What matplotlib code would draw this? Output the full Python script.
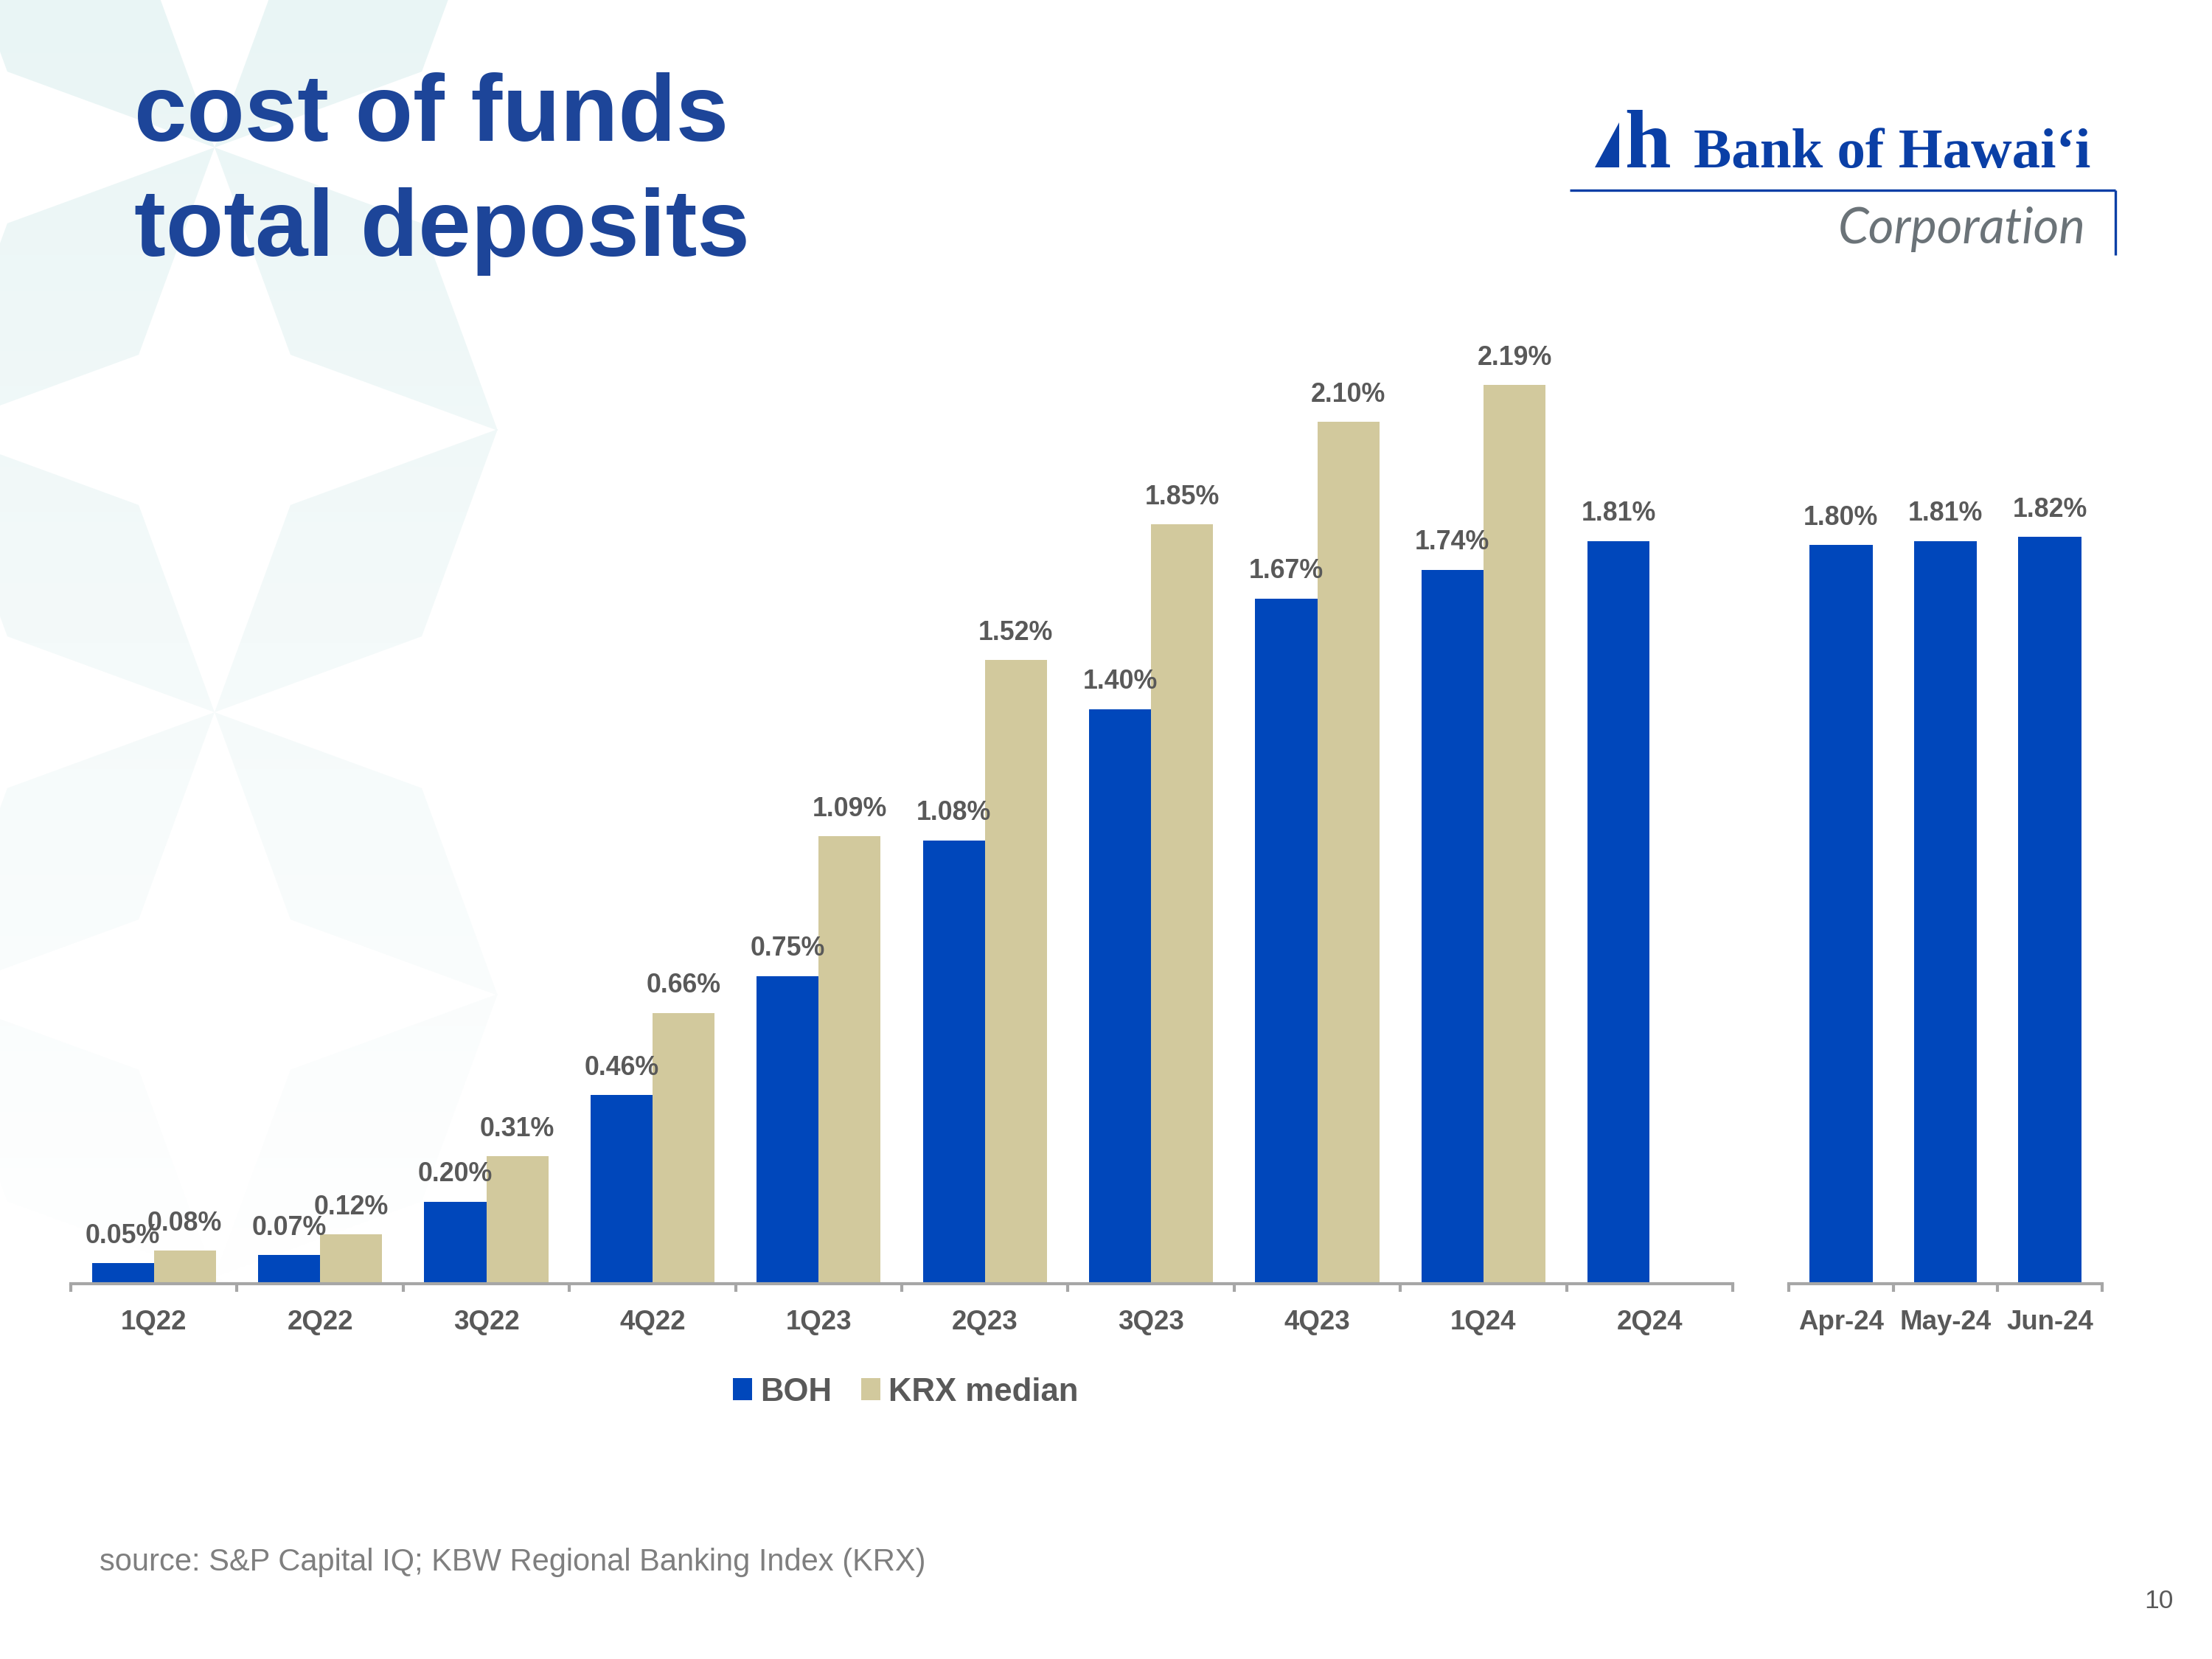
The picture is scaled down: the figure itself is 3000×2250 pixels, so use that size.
import numpy as np
import matplotlib.pyplot as plt
from matplotlib.patches import Polygon, PathPatch, Patch
from matplotlib.path import Path

plt.rcParams['font.family'] = ['Liberation Sans', 'DejaVu Sans']

# data
quarters = ['1Q22', '2Q22', '3Q22', '4Q22', '1Q23', '2Q23', '3Q23', '4Q23', '1Q24', '2Q24']
boh_q = [0.05, 0.07, 0.20, 0.46, 0.75, 1.08, 1.40, 1.67, 1.74, 1.81]
krx_q = [0.08, 0.12, 0.31, 0.66, 1.09, 1.52, 1.85, 2.10, 2.19, np.nan]
months = ['Apr-24', 'May-24', 'Jun-24']
boh_m = [1.80, 1.81, 1.82]

BLUE = '#0047BB'
TAN = '#D2C99D'
GREY = '#595959'
TITLE_BLUE = '#1D4599'
LOGO_BLUE = '#0A3FA6'

W, H = 3000, 2250
fig = plt.figure(figsize=(10, 7.5), dpi=300)

# ---- background star pattern (pixel coords) ----
bg = fig.add_axes([0, 0, 1, 1], zorder=0)
bg.set_xlim(0, W)
bg.set_ylim(H, 0)
bg.axis('off')

polys = []
for cy in (200, 966, 1732):
    cx = 291
    for dx, dy in [(1, 1), (1, -1), (-1, 1), (-1, -1)]:
        tip = (cx + 384 * dx, cy + 384 * dy)
        mx, my = cx + 192 * dx, cy + 192 * dy
        px, py = -dy / np.sqrt(2), dx / np.sqrt(2)
        s1 = (mx + 126 * px, my + 126 * py)
        s2 = (mx - 126 * px, my - 126 * py)
        polys.append(Path([(cx, cy), s1, tip, s2, (cx, cy)], closed=True))
star_path = Path.make_compound_path(*polys)

yy = np.linspace(0, H, 300)
grad = np.zeros((300, 1, 4))
grad[..., 0] = 0.914
grad[..., 1] = 0.962
grad[..., 2] = 0.962
grad[:, 0, 3] = np.clip(1.0 - yy / 1750, 0, 1)
im = bg.imshow(grad, extent=(0, W, H, 0), aspect='auto', interpolation='bilinear')
clip = PathPatch(star_path, transform=bg.transData, fc='none', ec='none')
bg.add_patch(clip)
im.set_clip_path(clip)
bg.set_xlim(0, W)
bg.set_ylim(H, 0)

# ---- title ----
fig.text(182 / W, 1 - 191 / H, 'cost of funds', fontsize=30.8, weight='bold',
         color=TITLE_BLUE, va='baseline')
fig.text(182 / W, 1 - 347 / H, 'total deposits', fontsize=30.8, weight='bold',
         color=TITLE_BLUE, va='baseline')

# ---- logo ----
bg.add_patch(Polygon([(2163, 227), (2196, 166), (2196, 227)], closed=True,
                     color=LOGO_BLUE, lw=0))
bg.text(2203, 227, 'h', fontsize=27, weight='bold', family='Liberation Serif',
        color=LOGO_BLUE, va='baseline', ha='left')
t_bank = bg.text(2297, 227, 'Bank of Hawai\u2018i', fontsize=20, weight='bold',
                 family='Liberation Serif', color=LOGO_BLUE, va='baseline', ha='left')
t_corp = bg.text(2829, 330, 'Corporation', fontsize=16, style='italic',
                 family=['Lato', 'DejaVu Sans'], color='#6B7378', va='baseline', ha='right')
bg.plot([2129, 2869], [258, 258], color=LOGO_BLUE, lw=0.8, solid_capstyle='butt')
bg.plot([2869, 2869], [258, 346], color=LOGO_BLUE, lw=0.8, solid_capstyle='butt')

renderer = fig.canvas.get_renderer()
for t, target in [(t_bank, 539), (t_corp, 336)]:
    wpx = t.get_window_extent(renderer).width
    t.set_fontsize(t.get_fontsize() * target / wpx)

# ---- chart axes ----
base_y = 1741
top_y = 300
px_per_pct = 556.5
ymax = (base_y - top_y) / px_per_pct

ax1 = fig.add_axes([96 / W, 1 - base_y / H, (2350 - 96) / W, (base_y - top_y) / H], zorder=2)
ax2 = fig.add_axes([2426 / W, 1 - base_y / H, (2851 - 2426) / W, (base_y - top_y) / H], zorder=2)

for ax in (ax1, ax2):
    ax.patch.set_visible(False)
    ax.set_ylim(0, ymax)
    ax.set_yticks([])
    for s in ('top', 'left', 'right'):
        ax.spines[s].set_visible(False)
    ax.spines['bottom'].set_color('#A6A6A6')
    ax.spines['bottom'].set_linewidth(1.0)


def label_bars(ax, xs, vals):
    for xi, v in zip(xs, vals):
        if np.isnan(v):
            continue
        ax.annotate(f'{v:.2f}%', (xi, v), xytext=(0, 6.6), textcoords='offset points',
                    ha='center', va='baseline', fontsize=8.6, weight='bold', color=GREY)


x = np.arange(len(quarters))
w = 0.3735
krx_arr = np.array(krx_q)
mask = ~np.isnan(krx_arr)
ax1.bar(x - w / 2, boh_q, w, color=BLUE, lw=0)
ax1.bar(x[mask] + w / 2, krx_arr[mask], w, color=TAN, lw=0)
label_bars(ax1, x - w / 2, boh_q)
label_bars(ax1, x + w / 2, krx_q)
ax1.set_xlim(-0.5, len(quarters) - 0.5)
ax1.set_xticks(x)
ax1.set_xticklabels(quarters)
ax1.set_xticks(np.arange(-0.5, len(quarters), 1), minor=True)

xm = np.arange(len(months))
ax2.bar(xm, boh_m, 0.607, color=BLUE, lw=0)
label_bars(ax2, xm, boh_m)
ax2.set_xlim(-0.5, len(months) - 0.5)
ax2.set_xticks(xm)
ax2.set_xticklabels(months)
ax2.set_xticks(np.arange(-0.5, len(months), 1), minor=True)

for ax in (ax1, ax2):
    ax.tick_params(axis='x', which='major', length=0, pad=8.4, labelsize=8.8, labelcolor=GREY)
    ax.tick_params(axis='x', which='minor', length=2.6, width=1.0, color='#A6A6A6')
    for lab in ax.get_xticklabels():
        lab.set_fontweight('bold')

# ---- legend ----
fig.legend(handles=[Patch(color=BLUE, lw=0), Patch(color=TAN, lw=0)],
           labels=['BOH', 'KRX median'], loc='center',
           bbox_to_anchor=(1228 / W, 1 - 1888 / H), ncol=2, frameon=False,
           prop={'weight': 'bold', 'size': 10.5}, labelcolor=GREY,
           handlelength=0.6, handleheight=0.66, handletextpad=0.25,
           columnspacing=0.9, borderpad=0, borderaxespad=0)

# ---- footer ----
fig.text(135 / W, 1 - 2130 / H, 'source: S&P Capital IQ; KBW Regional Banking Index (KRX)',
         fontsize=10, color='#7F7F7F', va='baseline')
fig.text(2948 / W, 1 - 2181 / H, '10', fontsize=8.5, color=GREY, va='baseline', ha='right')

fig.savefig('out.png', dpi=300)
